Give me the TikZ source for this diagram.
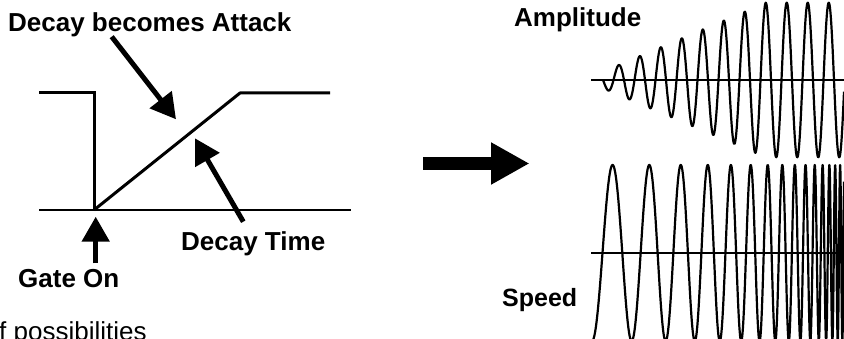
\documentclass[tikz,border=0pt]{standalone}
\usepackage{fontspec}
\setmainfont{Liberation Sans}
\usetikzlibrary{arrows.meta}
\begin{document}
\begin{tikzpicture}[x=1pt,y=-1pt,
  lbl/.style={font=\fontsize{26}{30}\selectfont\bfseries, inner sep=0pt, anchor=base west},
  plain/.style={font=\fontsize{26}{30}\selectfont, inner sep=0pt, anchor=base west},
  env/.style={line width=3pt, line join=miter},
  axisline/.style={line width=1.5pt},
  wave/.style={line width=2.2pt, line join=round},
  pointer/.style={line width=5pt, -{Triangle[length=25pt,width=27pt]}},
  bigarrow/.style={line width=13pt, -{Triangle[length=38.5pt,width=39.5pt]}},
]
\useasboundingbox (0,0) rectangle (844,339);
\clip (0,0) rectangle (844,339);

% ---- envelope sketch ----
\coordinate (l0)   at (39,93);
\coordinate (step) at (94,93);
\coordinate (gate) at (94,210);
\coordinate (top)  at (240,93);
\coordinate (r0)   at (330,93);
\coordinate (b0)   at (39,210);
\coordinate (b1)   at (351,210);

\draw[axisline] (b0) -- (b1);
\draw[env] (l0) -- (step) -- (gate);
\draw[env, line join=round] (gate) -- (top) -- (r0);

% ---- labels ----
\node[lbl] (dba)   at (8,32)    {Decay becomes Attack};
\node[lbl] (dtime) at (181,251) {Decay Time};
\node[lbl] (gon)   at (18,288)  {Gate On};
\node[lbl] (amp)   at (514,27)  {Amplitude};
\node[lbl, font=\fontsize{25}{30}\selectfont\bfseries] (spd) at (502,307) {Speed};
\node[plain] (poss) at (-1,340.5) {f possibilities};

% ---- pointers ----
\coordinate (dbaTail)   at (111.7,36.7);
\coordinate (dbaTip)    at (176,119.3);
\coordinate (dtTail)    at (243.3,221.7);
\coordinate (dtTip)     at (195,138.3);
\coordinate (gonTail)   at (95.7,263.3);
\coordinate (gonTip)    at (95.7,216.7);
\draw[pointer] (dbaTail) -- (dbaTip);
\draw[pointer] (dtTail) -- (dtTip);
\draw[pointer] (gonTail) -- (gonTip);

% ---- big arrow ----
\coordinate (bigTail) at (423,163.5);
\coordinate (bigTip)  at (529.5,163.5);
\draw[bigarrow] (bigTail) -- (bigTip);

% ---- amplitude-swept wave (period 21) ----
\coordinate (ax0) at (591,80);
\coordinate (ax1) at (844,80);
\draw[axisline] (ax0) -- (ax1);
\draw[wave] plot[domain=603:844, samples=700]
  (\x, {80 + min(77.3, 0.424*(\x-583.6))*sin(17.142857*(\x-603))});

% ---- speed-swept wave (rising frequency) ----
\coordinate (sx0) at (591,253);
\coordinate (sx1) at (844,253);
\draw[axisline] (sx0) -- (sx1);
\draw[wave] plot[domain=591.5:844, samples=1500]
  (\x, {253 + 88*cos(2340*ln(278/(870-\x)))});
\end{tikzpicture}
\end{document}
